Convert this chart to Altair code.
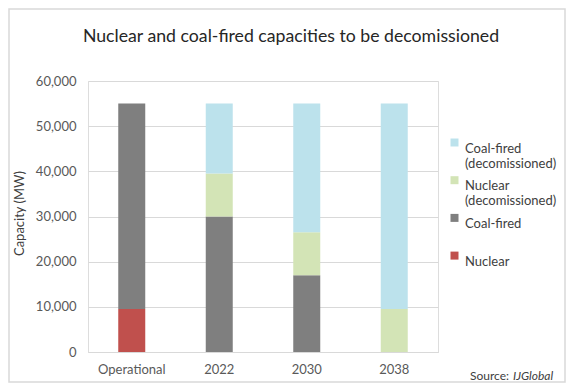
import altair as alt
import pandas as pd

categories = ["Operational", "2022", "2030", "2038"]
series = ["Nuclear", "Coal-fired", "Nuclear (decomissioned)", "Coal-fired (decomissioned)"]
nuclear = [9500, 0, 0, 0]
coal = [45500, 30000, 17000, 0]
nuclear_decom = [0, 9500, 9500, 9500]
coal_decom = [0, 15500, 28500, 45500]

legend_order = ["Coal-fired (decomissioned)", "Nuclear (decomissioned)", "Coal-fired", "Nuclear"]
colors = ["#BCE2EC", "#D3E4B6", "#7F7F7F", "#C0504D"]

title_text = ["Nuclear and coal-fired capacities to be decomissioned"]
source_label = ["Source:"]
source_name = ["IJGlobal"]

rows = []
for i, c in enumerate(categories):
    for s, vals in zip(series, [nuclear, coal, nuclear_decom, coal_decom]):
        rows.append({"category": c, "series": s, "value": vals[i], "order": series.index(s)})
df = pd.DataFrame(rows)

FONT = "Lato"

bars = alt.Chart(df).mark_bar(size=27).encode(
    x=alt.X("category:N", sort=categories, title=None,
            scale=alt.Scale(paddingInner=0.69, paddingOuter=0.345),
            axis=alt.Axis(labelAngle=0, labelFontSize=13, labelColor="#595959", labelFont=FONT,
                          labelPadding=11, ticks=False, domainColor="#D9D9D9", domainWidth=1)),
    y=alt.Y("value:Q", stack="zero", title="Capacity (MW)",
            scale=alt.Scale(domain=[0, 60000]),
            axis=alt.Axis(values=[0, 10000, 20000, 30000, 40000, 50000, 60000], format=",.0f",
                          labelFontSize=13, labelColor="#595959", labelFont=FONT, labelPadding=12,
                          ticks=False, domain=False, gridColor="#D9D9D9",
                          titleFontSize=13, titleFont=FONT, titleColor="#404040",
                          titleFontWeight="normal", titleX=-69, titleY=132,
                          titleAlign="center", titleBaseline="middle", titleAngle=270)),
    color=alt.Color("series:N", scale=alt.Scale(domain=legend_order, range=colors),
                    legend=alt.Legend(title=None, orient="none", legendX=360, legendY=55,
                                      labelExpr="split(datum.label == 'Coal-fired (decomissioned)' ? 'Coal-fired|(decomissioned)' : datum.label == 'Nuclear (decomissioned)' ? 'Nuclear|(decomissioned)' : datum.label + '| ', '|')",
                                      labelFontSize=13, labelFont=FONT, labelColor="#404040",
                                      labelBaseline="top",
                                      symbolType="square", symbolSize=64, symbolStrokeWidth=0,
                                      rowPadding=2.7, gridAlign="all", labelOffset=4)),
    order=alt.Order("order:Q"),
)

one = pd.DataFrame({"title": title_text, "a": source_label, "b": source_name})

title = alt.Chart(one).mark_text(align="center", baseline="middle", fontSize=17.7, font=FONT,
                                 color="#262626").encode(
    x=alt.value(203), y=alt.value(-44), text="title:N")
src1 = alt.Chart(one).mark_text(align="right", baseline="middle", fontSize=12, font=FONT,
                                color="#404040").encode(
    x=alt.value(421), y=alt.value(295), text="a:N")
src2 = alt.Chart(one).mark_text(align="left", baseline="middle", fontSize=12, font=FONT,
                                fontStyle="italic", color="#404040").encode(
    x=alt.value(425), y=alt.value(295), text="b:N")

border = alt.Chart(one).mark_rect(fill="transparent", stroke="#D9D9D9", strokeWidth=1.5).encode(
    x=alt.value(-79), x2=alt.value(477), y=alt.value(-72), y2=alt.value(301))

chart = alt.layer(border, bars, title, src1, src2).properties(
    width=350, height=271,
    padding={"left": 80, "top": 73, "right": 128, "bottom": 31},
    autosize=alt.AutoSizeParams(type="none"),
).configure_view(stroke=None).configure(background="white")

chart.save("out.html", embed_options={"renderer": "svg", "actions": False})
